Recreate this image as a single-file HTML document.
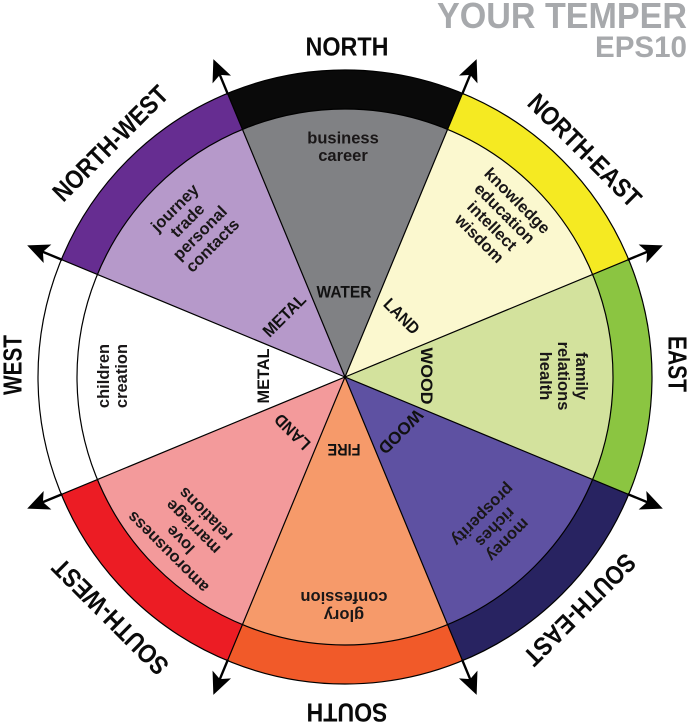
<!DOCTYPE html>
<html>
<head>
<meta charset="utf-8">
<style>
html,body{margin:0;padding:0;background:#fff;}
svg{display:block;}
</style>
</head>
<body>
<svg width="689" height="725" viewBox="0 0 689 725" xmlns="http://www.w3.org/2000/svg" xmlns:xlink="http://www.w3.org/1999/xlink" font-family="'Liberation Sans', sans-serif">
<defs>
<path id="wi" d="M345,377 L242.44,129.40 A268,268 0 0 1 447.56,129.40 Z"/>
<path id="wb" d="M242.44,129.40 L227.52,93.37 A307,307 0 0 1 462.48,93.37 L447.56,129.40 A268,268 0 0 0 242.44,129.40 Z"/>
<g id="arr">
<line x1="345" y1="377" x2="345" y2="70" stroke="#000" stroke-width="1.2"/>
<line x1="345" y1="71" x2="345" y2="48" stroke="#000" stroke-width="2.4"/>
<polygon points="345,33 355,55 345,50 335,55" fill="#000"/>
</g>
</defs>

<!-- title -->
<text x="687" y="28" text-anchor="end" font-size="36" font-weight="bold" fill="#a7a9ac" textLength="250" lengthAdjust="spacingAndGlyphs">YOUR TEMPER</text>
<text x="687" y="57" text-anchor="end" font-size="30" font-weight="bold" fill="#a7a9ac" textLength="92" lengthAdjust="spacingAndGlyphs">EPS10</text>

<!-- inner sectors -->
<use href="#wi" xlink:href="#wi" fill="#808184"/>
<use href="#wi" xlink:href="#wi" fill="#fbf8cf" transform="rotate(45 345 377)"/>
<use href="#wi" xlink:href="#wi" fill="#d3e29d" transform="rotate(90 345 377)"/>
<use href="#wi" xlink:href="#wi" fill="#5e51a2" transform="rotate(135 345 377)"/>
<use href="#wi" xlink:href="#wi" fill="#f69a6a" transform="rotate(180 345 377)"/>
<use href="#wi" xlink:href="#wi" fill="#f39a9b" transform="rotate(225 345 377)"/>
<use href="#wi" xlink:href="#wi" fill="#ffffff" transform="rotate(270 345 377)"/>
<use href="#wi" xlink:href="#wi" fill="#b699ca" transform="rotate(315 345 377)"/>

<!-- outer bands -->
<use href="#wb" xlink:href="#wb" fill="#0a0a0a"/>
<use href="#wb" xlink:href="#wb" fill="#f5ea22" transform="rotate(45 345 377)"/>
<use href="#wb" xlink:href="#wb" fill="#8bc541" transform="rotate(90 345 377)"/>
<use href="#wb" xlink:href="#wb" fill="#282361" transform="rotate(135 345 377)"/>
<use href="#wb" xlink:href="#wb" fill="#f15a29" transform="rotate(180 345 377)"/>
<use href="#wb" xlink:href="#wb" fill="#ec1c24" transform="rotate(225 345 377)"/>
<use href="#wb" xlink:href="#wb" fill="#ffffff" transform="rotate(270 345 377)"/>
<use href="#wb" xlink:href="#wb" fill="#662d91" transform="rotate(315 345 377)"/>

<!-- circles -->
<circle cx="345" cy="377" r="268" fill="none" stroke="#000" stroke-width="1.2"/>
<circle cx="345" cy="377" r="307" fill="none" stroke="#000" stroke-width="1.2"/>

<!-- radial lines + arrows -->
<use href="#arr" xlink:href="#arr" transform="rotate(22.5 345 377)"/>
<use href="#arr" xlink:href="#arr" transform="rotate(67.5 345 377)"/>
<use href="#arr" xlink:href="#arr" transform="rotate(112.5 345 377)"/>
<use href="#arr" xlink:href="#arr" transform="rotate(157.5 345 377)"/>
<use href="#arr" xlink:href="#arr" transform="rotate(202.5 345 377)"/>
<use href="#arr" xlink:href="#arr" transform="rotate(247.5 345 377)"/>
<use href="#arr" xlink:href="#arr" transform="rotate(292.5 345 377)"/>
<use href="#arr" xlink:href="#arr" transform="rotate(337.5 345 377)"/>

<!-- direction labels -->
<g font-size="26" font-weight="bold" fill="#0a0a0a" text-anchor="middle">
<text transform="translate(347,46)" y="9.4" textLength="83" lengthAdjust="spacingAndGlyphs">NORTH</text>
<text transform="translate(585,150) rotate(45)" y="9.4" textLength="148" lengthAdjust="spacingAndGlyphs">NORTH-EAST</text>
<text transform="translate(678,364) rotate(90)" y="9.4" textLength="56" lengthAdjust="spacingAndGlyphs">EAST</text>
<text transform="translate(580,610) rotate(135)" y="9.4" textLength="146" lengthAdjust="spacingAndGlyphs">SOUTH-EAST</text>
<text transform="translate(347,713) rotate(180)" y="9.4" textLength="81" lengthAdjust="spacingAndGlyphs">SOUTH</text>
<text transform="translate(110,617) rotate(225)" y="9.4" textLength="152" lengthAdjust="spacingAndGlyphs">SOUTH-WEST</text>
<text transform="translate(12,365) rotate(-90)" y="9.4" textLength="60" lengthAdjust="spacingAndGlyphs">WEST</text>
<text transform="translate(110,143) rotate(-45)" y="9.4" textLength="151" lengthAdjust="spacingAndGlyphs">NORTH-WEST</text>
</g>

<!-- sector texts -->
<g font-size="16.5" font-weight="bold" fill="#1a1718" text-anchor="middle">
<text transform="translate(343,147)"><tspan x="0" y="-3.75">business</tspan><tspan x="0" y="13.75">career</tspan></text>
<text transform="translate(498,220) rotate(45)"><tspan x="0" y="-21.7">knowledge</tspan><tspan x="0" y="-3.9">education</tspan><tspan x="0" y="13.9">intellect</tspan><tspan x="0" y="31.7">wisdom</tspan></text>
<text transform="translate(563,376) rotate(90)"><tspan x="0" y="-12.8">family</tspan><tspan x="0" y="5">relations</tspan><tspan x="0" y="22.8">health</tspan></text>
<text transform="translate(495,527) rotate(135)"><tspan x="0" y="-12.8">money</tspan><tspan x="0" y="5">riches</tspan><tspan x="0" y="22.8">prosperity</tspan></text>
<text transform="translate(344,606) rotate(180)"><tspan x="0" y="-3.9">glory</tspan><tspan x="0" y="13.9">confession</tspan></text>
<text transform="translate(187,533) rotate(225)"><tspan x="0" y="-21.7">amorousness</tspan><tspan x="0" y="-3.9">love</tspan><tspan x="0" y="13.9">marriage</tspan><tspan x="0" y="31.7">relations</tspan></text>
<text transform="translate(113,376) rotate(-90)"><tspan x="0" y="-3.9">children</tspan><tspan x="0" y="13.9">creation</tspan></text>
<text transform="translate(194,227) rotate(-45)"><tspan x="0" y="-21.7">journey</tspan><tspan x="0" y="-3.9">trade</tspan><tspan x="0" y="13.9">personal</tspan><tspan x="0" y="31.7">contacts</tspan></text>
</g>

<!-- element labels -->
<g font-size="17" font-weight="bold" fill="#111" text-anchor="middle">
<text transform="translate(344,291.5)" y="6.2" textLength="55" lengthAdjust="spacingAndGlyphs">WATER</text>
<text transform="translate(402,316) rotate(45)" y="6.2" textLength="43" lengthAdjust="spacingAndGlyphs">LAND</text>
<text transform="translate(427,376) rotate(90)" y="6.2" textLength="57" lengthAdjust="spacingAndGlyphs">WOOD</text>
<text transform="translate(401,432) rotate(135)" y="6.2" textLength="55" lengthAdjust="spacingAndGlyphs">WOOD</text>
<text transform="translate(344,450) rotate(180)" y="6.2" textLength="33" lengthAdjust="spacingAndGlyphs">FIRE</text>
<text transform="translate(292,432) rotate(225)" y="6.2" textLength="43" lengthAdjust="spacingAndGlyphs">LAND</text>
<text transform="translate(263,376) rotate(-90)" y="6.2" textLength="55" lengthAdjust="spacingAndGlyphs">METAL</text>
<text transform="translate(284,315) rotate(-45)" y="6.2" textLength="53" lengthAdjust="spacingAndGlyphs">METAL</text>
</g>
</svg>
</body>
</html>
